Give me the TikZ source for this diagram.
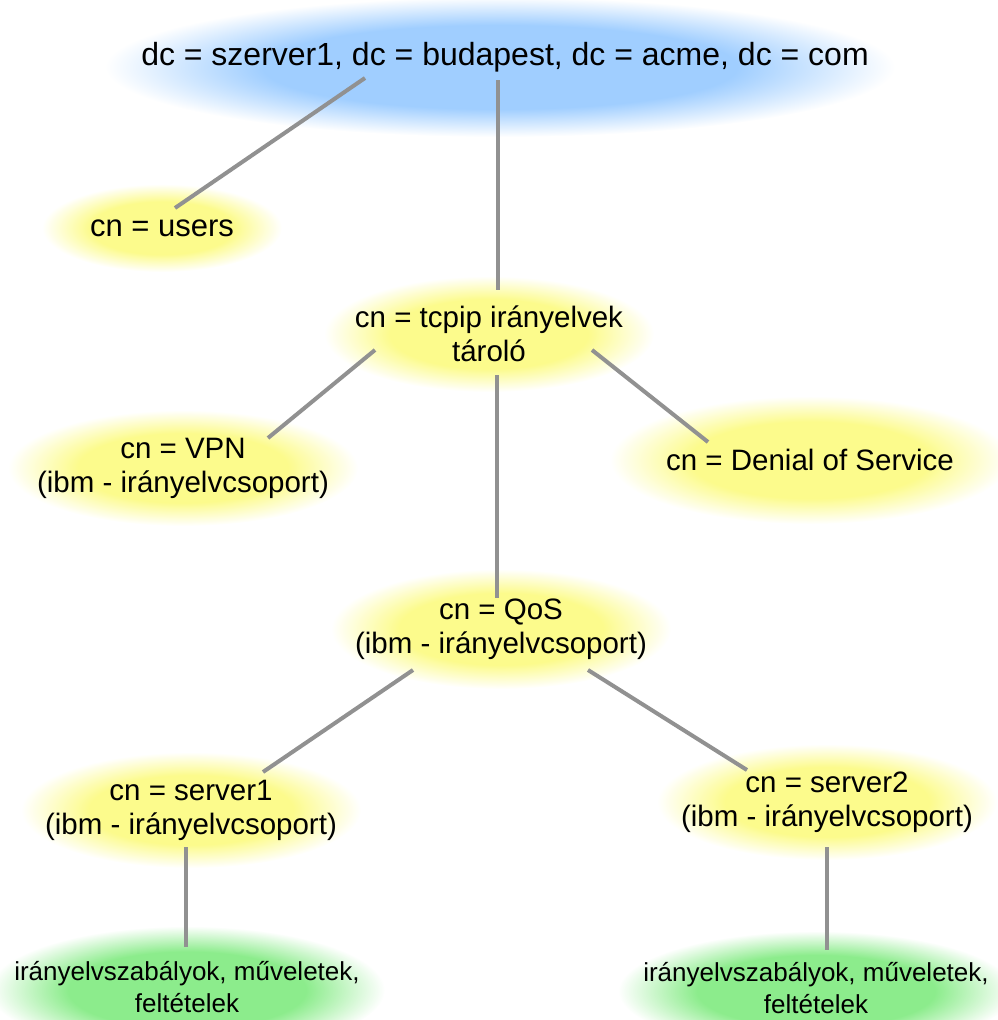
\documentclass[tikz,border=0pt]{standalone}
\usepackage{fontspec}
\setmainfont{Liberation Sans}
\usetikzlibrary{calc,backgrounds}
\definecolor{glowB}{RGB}{160,206,255}
\definecolor{glowY}{RGB}{252,251,140}
\definecolor{glowG}{RGB}{140,236,140}
\definecolor{edgegray}{RGB}{145,145,145}
\pgfdeclareradialshading{blueglow}{\pgfpoint{0bp}{0bp}}{color(0bp)=(glowB); color(15bp)=(glowB); color(25bp)=(white); color(50bp)=(white)}
\pgfdeclareradialshading{yellowglow}{\pgfpoint{0bp}{0bp}}{color(0bp)=(glowY); color(15bp)=(glowY); color(25bp)=(white); color(50bp)=(white)}
\pgfdeclareradialshading{greenglow}{\pgfpoint{0bp}{0bp}}{color(0bp)=(glowG); color(15bp)=(glowG); color(25bp)=(white); color(50bp)=(white)}
\begin{document}
\begin{tikzpicture}[x=1bp,y=-1bp,
  toplbl/.style={align=center,inner sep=2pt,font=\fontsize{32bp}{36bp}\selectfont},
  lbl/.style={align=center,inner sep=2pt,font=\fontsize{29.5bp}{34bp}\selectfont},
  leaflbl/.style={align=center,inner sep=2pt,font=\fontsize{26bp}{32bp}\selectfont},
  edge/.style={draw=edgegray,line width=4bp}]
\useasboundingbox (0,0) rectangle (998,1020);
% ---------- Labels ----------
\node[toplbl] (root) at (505,57) {dc = szerver1, dc = budapest, dc = acme, dc = com};
\node[toplbl,font=\fontsize{31bp}{36bp}\selectfont] (users) at (162,228) {cn = users};
\node[lbl] (tcpip) at (489,334) {cn = tcpip irányelvek\\tároló};
\node[lbl] (vpn) at (183,468) {cn = VPN\\(ibm - irányelvcsoport)};
\node[lbl] (dos) at (810,460) {cn = Denial of Service};
\node[lbl] (qos) at (501,629) {cn = QoS\\(ibm - irányelvcsoport)};
\node[lbl] (srvA) at (191,810) {cn = server1\\(ibm - irányelvcsoport)};
\node[lbl] (srvB) at (827,802) {cn = server2\\(ibm - irányelvcsoport)};
\node[leaflbl] (rulesA) at (187,987) {irányelvszabályok, műveletek,\\feltételek};
\node[leaflbl] (rulesB) at (816,988) {irányelvszabályok, műveletek,\\feltételek};
% ---------- Glows ----------
\begin{scope}[on background layer]
\shade[shading=blueglow] ($(root)+(-5,10)$) ellipse [x radius=395, y radius=70];
\shade[shading=yellowglow] (users) ellipse [x radius=120, y radius=44];
\shade[shading=yellowglow] (tcpip) ellipse [x radius=165, y radius=58];
\shade[shading=yellowglow] (vpn) ellipse [x radius=175, y radius=58];
\shade[shading=yellowglow] (dos) ellipse [x radius=200, y radius=64];
\shade[shading=yellowglow] (qos) ellipse [x radius=170, y radius=60];
\shade[shading=yellowglow] (srvA) ellipse [x radius=170, y radius=58];
\shade[shading=yellowglow] (srvB) ellipse [x radius=170, y radius=58];
\shade[shading=greenglow] ($(rulesA)+(0,3)$) ellipse [x radius=198, y radius=64];
\shade[shading=greenglow] ($(rulesB)+(0,3)$) ellipse [x radius=198, y radius=60];
\end{scope}
% ---------- Connectors ----------
\draw[edge] ($(root)+(-140,21)$) -- ($(users)+(13,-20)$);
\draw[edge] ($(root)+(-7,23)$) -- ($(tcpip)+(9,-44)$);
\draw[edge] ($(tcpip)+(-114,16)$) -- ($(vpn)+(85,-30)$);
\draw[edge] ($(tcpip)+(103,16)$) -- ($(dos)+(-102,-18)$);
\draw[edge] ($(tcpip)+(8,41)$) -- ($(qos)+(-4,-31)$);
\draw[edge] ($(qos)+(-88,41)$) -- ($(srvA)+(72,-38)$);
\draw[edge] ($(qos)+(87,41)$) -- ($(srvB)+(-80,-32)$);
\draw[edge] ($(srvA)+(-5,37)$) -- ($(rulesA)+(-1,-40)$);
\draw[edge] ($(srvB)+(0,45)$) -- ($(rulesB)+(11,-38)$);
\end{tikzpicture}
\end{document}
